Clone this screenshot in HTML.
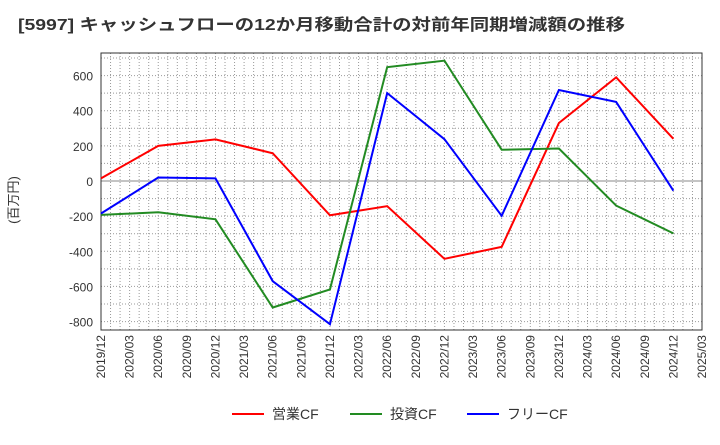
<!DOCTYPE html>
<html><head><meta charset="utf-8"><style>
body{margin:0;background:#fff;}
text{font-family:"Liberation Sans","Noto Sans CJK JP",sans-serif;fill:#333;}
</style></head><body>
<svg id="c" width="720" height="440" xmlns="http://www.w3.org/2000/svg">
<text x="18" y="30" font-size="16" font-weight="bold" textLength="607" lengthAdjust="spacingAndGlyphs">[5997]  キャッシュフローの12か月移動合計の対前年同期増減額の推移</text>
<text transform="translate(18,200) rotate(-90)" font-size="13" text-anchor="middle">(百万円)</text>
<g id="grid"></g><g id="axes"></g><g id="series"></g>
<g>
<line x1="232" y1="414" x2="264" y2="414" stroke="#ff0000" stroke-width="2"/><text x="272" y="419" font-size="14">営業CF</text>
<line x1="350" y1="414" x2="382" y2="414" stroke="#228b22" stroke-width="2"/><text x="390" y="419" font-size="14">投資CF</text>
<line x1="467" y1="414" x2="499" y2="414" stroke="#0000ff" stroke-width="2"/><text x="507" y="419" font-size="14">フリーCF</text>
</g>
</svg>
<script>
const xLabels=["2019/12","2020/03","2020/06","2020/09","2020/12","2021/03","2021/06","2021/09","2021/12","2022/03","2022/06","2022/09","2022/12","2023/03","2023/06","2023/09","2023/12","2024/03","2024/06","2024/09","2024/12","2025/03"];
const yTicks=[-800,-600,-400,-200,0,200,400,600];
const pointIdx=[0,2,4,6,8,10,12,14,16,18,20];
const opCF=[15,200,237,158,-195,-143,-443,-375,330,590,240];
const invCF=[-193,-178,-218,-720,-617,648,685,178,185,-140,-298];
const freeCF=[-185,20,15,-570,-815,500,238,-198,518,450,-55];
const L=101,R=702,T=53,B=330;
const x=i=>L+(R-L)*i/21;
const y=v=>181-v*(246/1400);
const NS="http://www.w3.org/2000/svg";
function mk(tag,attrs,parent){const e=document.createElementNS(NS,tag);for(const k in attrs)e.setAttribute(k,attrs[k]);document.getElementById(parent).appendChild(e);return e;}
for(let m=1;m<63;m++){const xx=L+(R-L)*m/63;const g=mk('line',{x1:xx,x2:xx,y1:T,y2:B,stroke:'#999','stroke-dasharray':'1,2','stroke-width':1},'grid');

}
for(let v=-800;v<=700;v+=100){if(v===0)continue;const g=mk('line',{x1:L,x2:R,y1:y(v),y2:y(v),stroke:'#999','stroke-dasharray':'1,2','stroke-width':1},'grid');

}
const z=mk('line',{x1:L,x2:R,y1:y(0),y2:y(0),stroke:'#888','stroke-width':1},'axes');


const fr=mk('rect',{x:L,y:T,width:R-L,height:B-T,fill:'none',stroke:'#333','stroke-width':1},'axes');


yTicks.forEach(v=>{const t=mk('text',{x:L-8,y:y(v)+5,'font-size':12,'text-anchor':'end'},'axes');t.textContent=v;

});
xLabels.forEach((s,i)=>{const t=mk('text',{transform:`translate(${x(i)+4},${B+5}) rotate(-90)`,'font-size':12,'text-anchor':'end'},'axes');t.textContent=s;

});
[[opCF,'#ff0000','operating-cf-line'],[invCF,'#228b22','investing-cf-line'],[freeCF,'#0000ff','free-cf-line']].forEach(([d,c,n])=>{
const p=mk('polyline',{points:d.map((v,i)=>x(pointIdx[i])+','+y(v)).join(' '),fill:'none',stroke:c,'stroke-width':2},'series');

});
</script>
</body></html>
